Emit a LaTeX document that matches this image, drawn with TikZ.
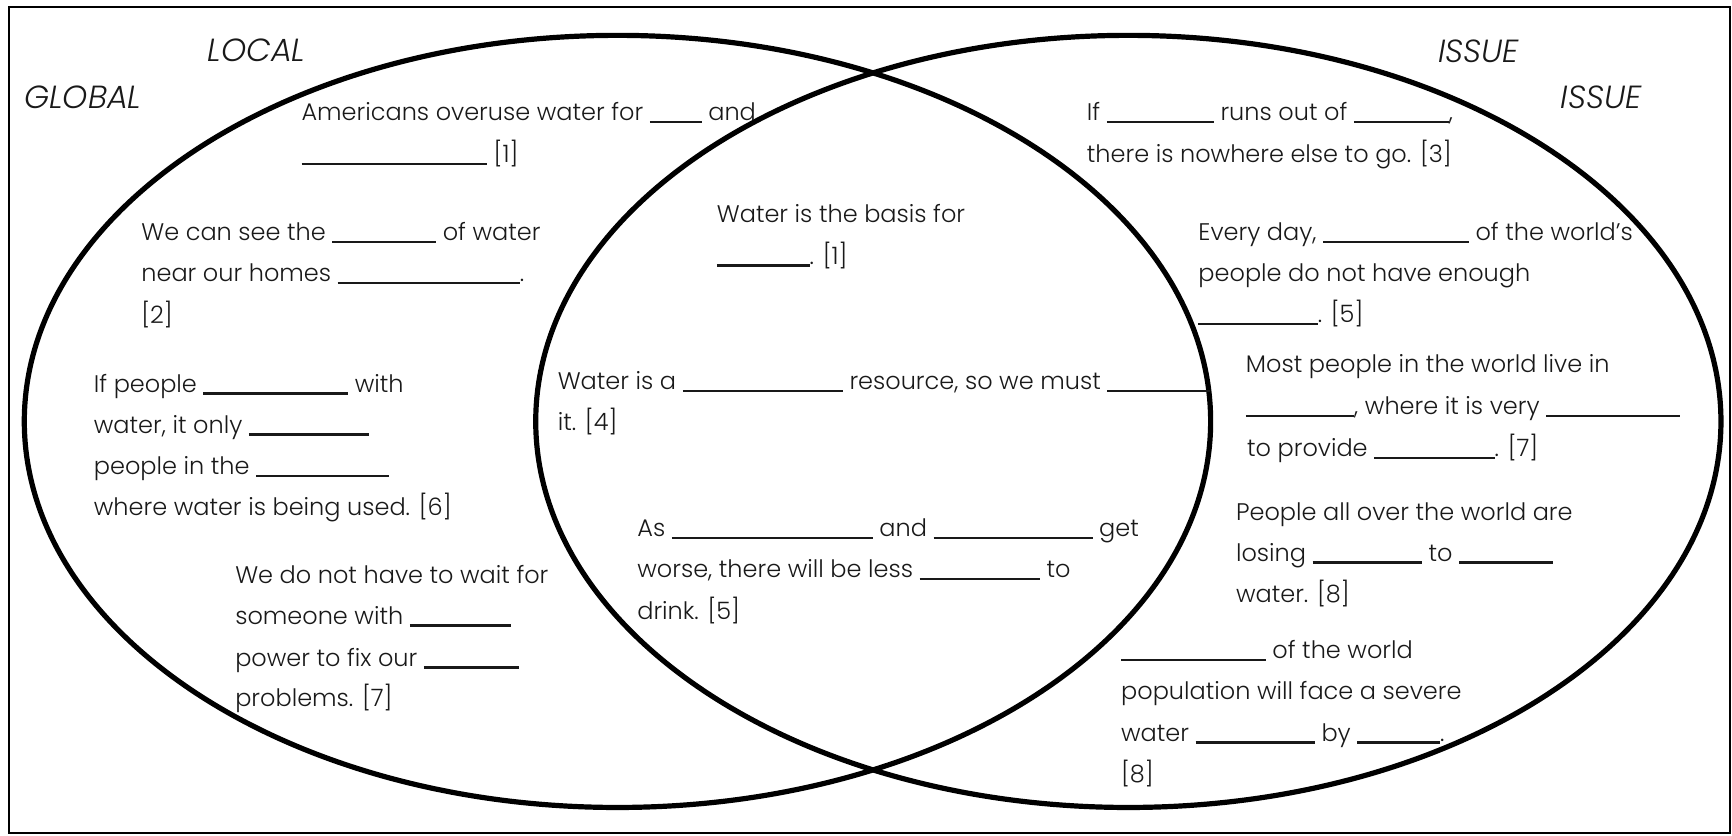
\documentclass[tikz,border=0pt]{standalone}
\usepackage{fontspec}
\setmainfont{Poppins Light}[ItalicFont={Poppins Light Italic}]
\newcommand{\bl}[1]{\rule[-2.5pt]{\dimexpr #1pt*11046/10000\relax}{2.2pt}}
\begin{document}
\begin{tikzpicture}[x=1.1046pt,y=-1.1046pt,
  txt/.style={anchor=base west, inner sep=0pt, outer sep=0pt, font=\fontsize{24}{28}\selectfont, text=black!90},
  lbl/.style={anchor=base west, inner sep=0pt, outer sep=0pt, font=\fontsize{32}{36}\selectfont\itshape, text=black!90},
  ring/.style={draw=black, line width=5.2pt},
  frame/.style={draw=black, line width=2pt}]
\useasboundingbox (0,0) rectangle (1568,756);
\draw[frame] (8,6) rectangle (1566,754);
\draw[ring] (559,381.5) ellipse [x radius=537, y radius=349.5];
\draw[ring] (1021.5,381.5) ellipse [x radius=536.5, y radius=349.5];
% labels
\node[lbl] (local) at (188,56) {LOCAL};
\node[lbl] (global) at (22,98) {GLOBAL};
\node[lbl] (issue1) at (1302,57) {ISSUE};
\node[lbl] (issue2) at (1413,98) {ISSUE};
% block 1
\node[txt] (b1a) at (273,109) {Americans overuse water for \bl{47} and};
\node[txt] (b1b) at (273,147) {\bl{168} [1]};
% block 2
\node[txt] (b2a) at (128,218) {We can see the \bl{94} of water};
\node[txt] (b2b) at (128,255) {near our homes \bl{165}.};
\node[txt] (b2c) at (128,293) {[2]};
% block 3
\node[txt] (b3a) at (85,355) {If people \bl{131} with};
\node[txt] (b3b) at (85,392) {water, it only \bl{109}};
\node[txt] (b3c) at (85,430) {people in the \bl{120}};
\node[txt] (b3d) at (85,467) {where water is being used. [6]};
% block 4
\node[txt] (b4a) at (213,528) {We do not have to wait for};
\node[txt] (b4b) at (213,565) {someone with \bl{92}};
\node[txt] (b4c) at (213,603) {power to fix our \bl{86}};
\node[txt] (b4d) at (213,640) {problems. [7]};
% block 5
\node[txt] (b5a) at (649,201) {Water is the basis for};
\node[txt] (b5b) at (649,239) {\bl{84}. [1]};
% block 6
\node[txt] (b6a) at (505,353) {Water is a \bl{145} resource, so we must \bl{93}};
\node[txt] (b6b) at (505,390) {it. [4]};
% block 7
\node[txt] (b7a) at (577,486) {As \bl{182} and \bl{144} get};
\node[txt] (b7b) at (577,523) {worse, there will be less \bl{109} to};
\node[txt] (b7c) at (577,561) {drink. [5]};
% block 8
\node[txt] (b8a) at (984,109) {If \bl{97} runs out of \bl{86},};
\node[txt] (b8b) at (984,147) {there is nowhere else to go. [3]};
% block 9
\node[txt] (b9a) at (1085,218) {Every day, \bl{132} of the world's};
\node[txt] (b9b) at (1085,255) {people do not have enough};
\node[txt] (b9c) at (1085,292) {\bl{108}. [5]};
% block 10
\node[txt] (b10a) at (1128,337) {Most people in the world live in};
\node[txt] (b10b) at (1128,375) {\bl{98}, where it is very \bl{121}};
\node[txt] (b10c) at (1129,413) {to provide \bl{109}. [7]};
% block 11
\node[txt] (b11a) at (1119,471) {People all over the world are};
\node[txt] (b11b) at (1119,508) {losing \bl{99} to \bl{85}};
\node[txt] (b11c) at (1119,545) {water. [8]};
% block 12
\node[txt] (b12a) at (1015,596) {\bl{131} of the world};
\node[txt] (b12b) at (1015,633) {population will face a severe};
\node[txt] (b12c) at (1015,671) {water \bl{108} by \bl{75}.};
\node[txt] (b12d) at (1015,708) {[8]};
\end{tikzpicture}
\end{document}
